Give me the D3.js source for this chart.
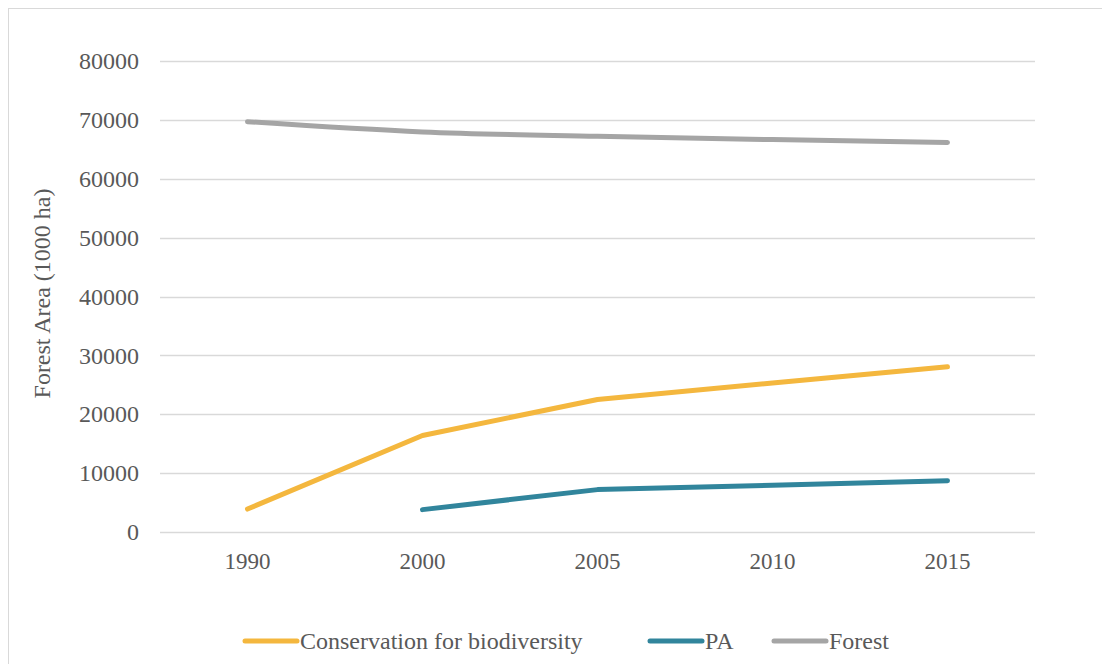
<!DOCTYPE html>
<html>
<head>
<meta charset="utf-8">
<script src="https://cdn.jsdelivr.net/npm/d3@7"></script>
<style>
  html, body { margin: 0; padding: 0; background: #fff; }
  svg { display: block; }
</style>
</head>
<body>
<svg id="chart" width="1102" height="664"></svg>
<script>
// Forest area series (1000 ha)
const years = ["1990", "2000", "2005", "2010", "2015"];
const conservation = [3900, 16400, 22500, 25300, 28050];
const pa = [null, 3800, 7200, 7950, 8700];
const forest = [69700, 67950, 67200, 66650, 66150];
const yTicks = [0, 10000, 20000, 30000, 40000, 50000, 60000, 70000, 80000];

const seriesNames = ["Conservation for biodiversity", "PA", "Forest"];
const seriesColors = ["#F4B73E", "#31859C", "#A5A5A5"];
const seriesValues = [conservation, pa, forest];

const TEXT_COLOR = "#595959";
const serif = sel => sel.style("font-family", "'Liberation Serif'").style("fill", TEXT_COLOR);

const svg = d3.select("#chart");
const W = 1102, H = 664;
const margin = { left: 160, right: 67, top: 61, bottom: 132 };

// outer chart border
svg.append("rect")
  .attr("x", 8.5).attr("y", 8.5)
  .attr("width", 1120).attr("height", 720)
  .attr("fill", "none").attr("stroke", "#D9D9D9").attr("stroke-width", 1);

const x = d3.scaleBand().domain(years)
  .range([margin.left, W - margin.right]).padding(0);
const y = d3.scaleLinear().domain([0, 80000])
  .range([H - margin.bottom, margin.top]);

// horizontal gridlines
svg.append("g").selectAll("line").data(yTicks).join("line")
  .attr("x1", margin.left).attr("x2", W - margin.right)
  .attr("y1", d => Math.round(y(d)) + 0.5).attr("y2", d => Math.round(y(d)) + 0.5)
  .attr("stroke", "#D9D9D9").attr("stroke-width", 1.3);

// y axis labels
const yAxis = svg.append("g")
  .attr("transform", `translate(${margin.left},0)`)
  .call(d3.axisLeft(y).tickValues(yTicks).tickFormat(d3.format("d")).tickSize(0).tickPadding(21));
yAxis.select(".domain").remove();
yAxis.selectAll("text").call(serif).style("font-size", "24px");

// x axis labels
const xAxis = svg.append("g")
  .attr("transform", `translate(0,${H - margin.bottom})`)
  .call(d3.axisBottom(x).tickSize(0).tickPadding(21));
xAxis.select(".domain").remove();
xAxis.selectAll("text").call(serif).style("font-size", "23px");

// y axis title
svg.append("text")
  .attr("transform", `translate(50,${(margin.top + H - margin.bottom) / 2 - 3}) rotate(-90)`)
  .attr("text-anchor", "middle")
  .call(serif).style("font-size", "24px")
  .text("Forest Area (1000 ha)");

// series lines
const cx = d => x(d) + x.bandwidth() / 2;
seriesValues.forEach((vals, i) => {
  const line = d3.line()
    .defined(d => d[1] != null)
    .x(d => cx(d[0]))
    .y(d => y(d[1]))
    .curve(i === 2 ? d3.curveMonotoneX : d3.curveLinear);
  svg.append("path")
    .datum(years.map((yr, j) => [yr, vals[j]]))
    .attr("d", line)
    .attr("fill", "none")
    .attr("stroke", seriesColors[i])
    .attr("stroke-width", 5)
    .attr("stroke-linecap", "round")
    .attr("stroke-linejoin", "round");
});

// legend
const legendY = 641;
const legendX = [243, 648, 772];
const legend = svg.append("g");
seriesNames.forEach((name, i) => {
  const g = legend.append("g").attr("transform", `translate(${legendX[i]},${legendY})`);
  g.append("line")
    .attr("x1", 2).attr("x2", 54).attr("y1", 0).attr("y2", 0)
    .attr("stroke", seriesColors[i]).attr("stroke-width", 5)
    .attr("stroke-linecap", "round");
  g.append("text")
    .attr("x", 57).attr("y", 0).attr("dy", "0.35em")
    .call(serif).style("font-size", "24px")
    .text(name);
});
</script>
</body>
</html>
